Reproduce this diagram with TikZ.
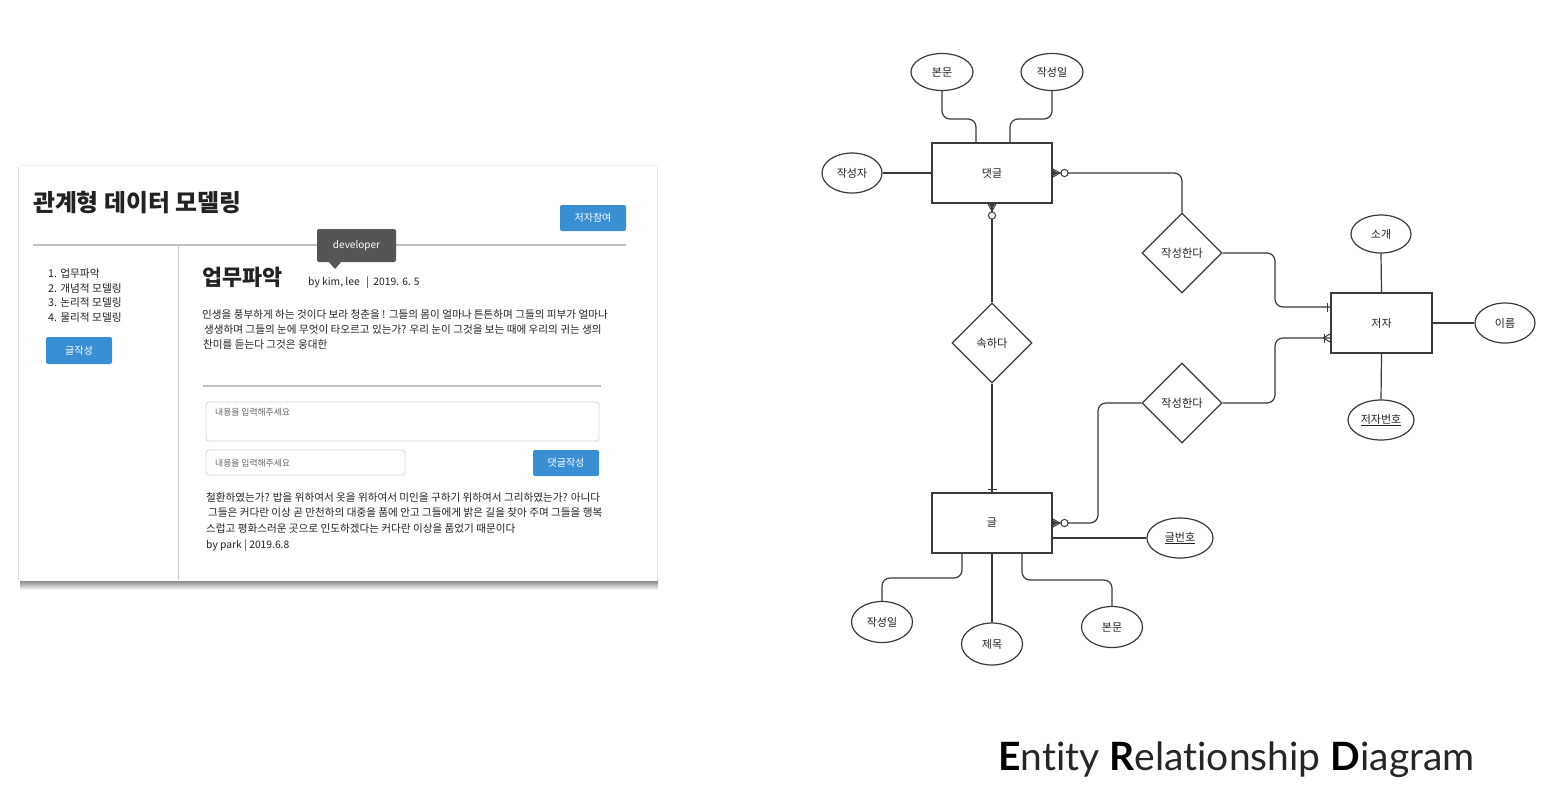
\documentclass[tikz,border=0pt]{standalone}
\usepackage{fontspec}
\setmainfont{Noto Sans CJK KR}
\newfontfamily\lato[Ligatures=NoCommon]{Lato}
\usetikzlibrary{shapes.geometric}
\definecolor{btnblue}{HTML}{3A8FD2}
\definecolor{erline}{HTML}{3A3A3A}
\definecolor{txt}{HTML}{222222}
\definecolor{tipgray}{HTML}{555555}
\newcommand\fsz[1]{\fontsize{#1}{#1}\selectfont}
\begin{document}
\begin{tikzpicture}[x=1pt,y=-1pt,
  txtnode/.style={inner sep=0pt,anchor=base west,text=txt},
  btn/.style={fill=btnblue,rounded corners=2pt,text=white,inner sep=0pt,font=\fsz{10}},
  field/.style={draw=black!15,line width=0.9pt,rounded corners=3pt,fill=white},
  ent/.style={draw=erline,line width=1.2pt,minimum width=120pt,minimum height=60pt,font=\fsz{11},text=txt,inner sep=0pt},
  attr/.style={draw=erline,line width=1.2pt,ellipse,minimum width=60pt,minimum height=38pt,font=\fsz{11},text=txt,inner sep=0pt},
  rel/.style={draw=erline,line width=1.2pt,diamond,minimum width=80pt,minimum height=80pt,font=\fsz{11.3},text=txt,inner sep=0pt,aspect=1},
  con/.style={draw=erline,line width=1.2pt},
  conr/.style={draw=erline,line width=1.2pt,rounded corners=8pt}
]
\useasboundingbox (0,0) rectangle (1566,807);
\fill[white] (0,0) rectangle (1566,807);

%% ---------------- mock-up panel ----------------
\shade[top color=black!55,bottom color=white] (20,579) rectangle (658,590);
\fill[white] (18,165) rectangle (658,581);
\draw[black!12,line width=1pt] (18,167) -- (18,581);
\draw[black!12,line width=1pt] (657,167) -- (657,581);
\draw[black!6,line width=1pt] (20,165) -- (655,165);

\node[txtnode,font=\fsz{23.8}\bfseries] (title) at (33,211) {관계형 데이터 모델링};
\node[btn,minimum width=66pt,minimum height=26pt] (bauthor) at (593,218) {저자참여};
\draw[black!25,line width=1.2pt] (33,245) -- (626,245);
\draw[black!20,line width=1pt] (178,245) -- (178,580);

% tooltip
\fill[tipgray,rounded corners=2pt] (317,229) rectangle (396,262);
\fill[tipgray] (328,261) -- (335,269) -- (342,261) -- cycle;
\node[inner sep=0pt,text=white,font=\fsz{10}] (tip) at (356.5,246) {developer};

% left menu
\node[txtnode,font=\fsz{10.7}] (m1) at (48,277) {1. 업무파악};
\node[txtnode,font=\fsz{10.7}] (m2) at (48,292) {2. 개념적 모델링};
\node[txtnode,font=\fsz{10.7}] (m3) at (48,306) {3. 논리적 모델링};
\node[txtnode,font=\fsz{10.7}] (m4) at (48,321) {4. 물리적 모델링};
\node[btn,minimum width=66pt,minimum height=27pt] (bwrite) at (79,350.5) {글작성};

% main content
\node[txtnode,font=\fsz{21.8}\bfseries] (head) at (202,285) {업무파악};
\node[txtnode,font=\fsz{10.3}] (byline) at (308,285) {by kim, lee \ \,|\ \ 2019. 6. 5};
\node[txtnode,font=\fsz{10.6}] (p1) at (202,318) {인생을 풍부하게 하는 것이다 보라 청춘을 ! 그들의 몸이 얼마나 튼튼하며 그들의 피부가 얼마나};
\node[txtnode,font=\fsz{10.6}] (p2) at (204,333) {생생하며 그들의 눈에 무엇이 타오르고 있는가? 우리 눈이 그것을 보는 때에 우리의 귀는 생의};
\node[txtnode,font=\fsz{10.6}] (p3) at (203,348) {찬미를 듣는다 그것은 웅대한};
\draw[black!25,line width=1.2pt] (203,386) -- (601,386);

\draw[field] (206,402) rectangle (599,441);
\node[txtnode,font=\fsz{8.8},text=black!60] (ph1) at (215,415) {내용을 입력해주세요};
\draw[field] (206,450) rectangle (405,475);
\node[txtnode,font=\fsz{8.8},text=black!60] (ph2) at (215,466) {내용을 입력해주세요};
\node[btn,minimum width=66pt,minimum height=26pt] (bcomment) at (566,463) {댓글작성};

\node[txtnode,font=\fsz{10.6}] (q1) at (206,501) {철환하였는가? 밥을 위하여서 옷을 위하여서 미인을 구하기 위하여서 그리하였는가? 아니다};
\node[txtnode,font=\fsz{10.6}] (q2) at (208,516) {그들은 커다란 이상 곧 만천하의 대중을 품에 안고 그들에게 밝은 길을 찾아 주며 그들을 행복};
\node[txtnode,font=\fsz{10.6}] (q3) at (206,532) {스럽고 평화스러운 곳으로 인도하겠다는 커다란 이상을 품었기 때문이다};
\node[txtnode,font=\fsz{10.3}] (q4) at (206,548) {by park | 2019.6.8};

%% ---------------- ERD ----------------
\node[ent] (cmt) at (992,173) {댓글};
\node[ent,minimum width=101pt] (auth) at (1381.5,323) {저자};
\node[ent] (post) at (992,523) {글};

\node[attr,minimum width=62pt,minimum height=37pt] (cbody) at (942,72) {본문};
\node[attr,minimum width=62pt,minimum height=37pt] (cdate) at (1052,72) {작성일};
\node[attr,minimum width=60pt,minimum height=40pt] (cwriter) at (852,173) {작성자};
\node[attr] (intro) at (1381,234) {소개};
\node[attr,minimum height=40pt] (name) at (1505,323) {이름};
\node[attr,minimum width=66pt,minimum height=40pt] (aid) at (1381,420) {\underline{저자번호}};
\node[attr,minimum width=66pt,minimum height=40pt] (pid) at (1180,538) {\underline{글번호}};
\node[attr,minimum width=61pt,minimum height=41pt] (pdate) at (882,622) {작성일};
\node[attr,minimum width=61pt,minimum height=42pt] (ptitle) at (992,644) {제목};
\node[attr,minimum width=61pt,minimum height=41pt] (pbody) at (1112,627) {본문};

\node[rel] (wr1) at (1182,253) {작성한다};
\node[rel] (belong) at (992,343) {속하다};
\node[rel] (wr2) at (1182,403) {작성한다};

% attribute links
\draw[conr] (cbody.south) -- (942,119) -- (976,119) -- (976,143);
\draw[conr] (cdate.south) -- (1052,119) -- (1010,119) -- (1010,143);
\draw[con] (cwriter.east) -- (cmt.west);
\draw[con] (auth.north) -- (intro.south);
\draw[con] (auth.east) -- (name.west);
\draw[con] (auth.south) -- (aid.north);
\draw[con] (1052,538) -- (pid.west);
\draw[conr] (962,553) -- (962,578) -- (882,578) -- (pdate.north);
\draw[con] (post.south) -- (ptitle.north);
\draw[conr] (1022,553) -- (1022,580) -- (1112,580) -- (pbody.north);

% relationship links
\draw[conr] (cmt.east) -- (1182,173) -- (wr1.north);
\draw[conr] (wr1.east) -- (1275,253) -- (1275,307) -- (1331,307);
\draw[conr] (wr2.east) -- (1275,403) -- (1275,338) -- (1331,338);
\draw[conr] (wr2.west) -- (1098,403) -- (1098,523) -- (post.east);
\draw[con] (cmt.south) -- (belong.north);
\draw[con] (belong.south) -- (post.north);

% cardinality marks
\begin{scope}[erline,line width=1pt]
  % cmt east: crow foot + circle
  \draw (1060,173) -- (1052,168.5) (1060,173) -- (1052,177.5);
  \fill (1052,169.5) -- (1058,173) -- (1052,176.5) -- cycle;
  \draw[fill=white] (1064.5,173) circle (3.6);
  % cmt south: crow foot + circle
  \draw (992,211) -- (987.5,203) (992,211) -- (996.5,203);
  \fill (988.5,203) -- (992,209) -- (995.5,203) -- cycle;
  \draw[fill=white] (992,215.5) circle (3.6);
  % post east: crow foot + circle
  \draw (1060,523) -- (1052,518.5) (1060,523) -- (1052,527.5);
  \fill (1052,519.5) -- (1058,523) -- (1052,526.5) -- cycle;
  \draw[fill=white] (1064.5,523) circle (3.6);
  % post north: bar
  \draw (987.5,489) -- (996.5,489);
  % auth west upper: bar
  \draw (1327,302.5) -- (1327,311.5);
  % auth west lower: crow foot + bar
  \draw (1323,338) -- (1331,333.5) (1323,338) -- (1331,342.5);
  \draw (1324,333.5) -- (1324,342.5);
\end{scope}

%% ---------------- caption ----------------
\node[inner sep=0pt,anchor=base west,font=\lato\fsz{39},text=black!85] (cap) at (998,770)
  {{\bfseries\color{black}E}ntity {\bfseries\color{black}R}elationship {\bfseries\color{black}D}iagram};
\end{tikzpicture}
\end{document}
